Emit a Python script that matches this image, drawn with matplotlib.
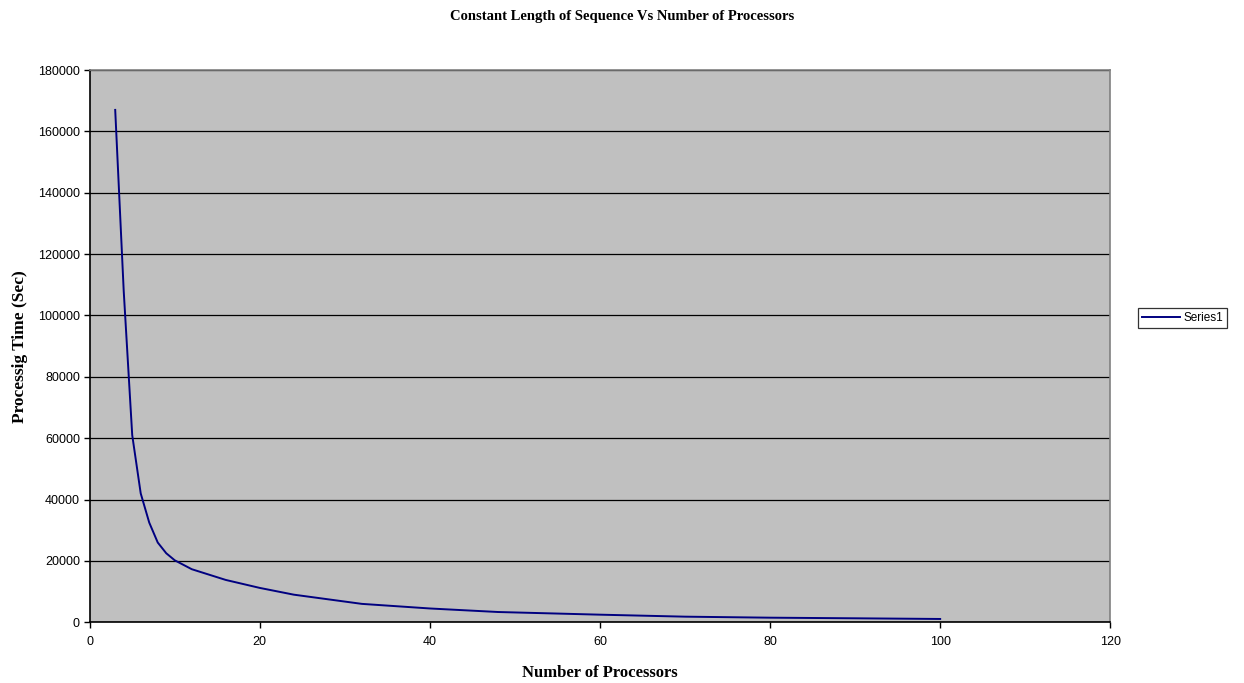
import matplotlib
matplotlib.use("Agg")
import matplotlib.pyplot as plt

# Processing time for a constant sequence length, by processor count
processors = [3, 4, 5, 6, 7, 8, 9, 10, 12, 16, 20, 24, 32, 40, 48, 60, 70, 80, 90, 100]
proc_time = [167000, 108000, 61000, 42000, 32500, 26000, 22500, 20200, 17300, 13800,
             11200, 9000, 6000, 4500, 3350, 2480, 1830, 1500, 1300, 1080]

x_ticks = [0, 20, 40, 60, 80, 100, 120]
y_ticks = [0, 20000, 40000, 60000, 80000, 100000, 120000, 140000, 160000, 180000]

serif = ["Liberation Serif", "DejaVu Serif"]
sans = ["Liberation Sans", "DejaVu Sans"]

fig = plt.figure(figsize=(12.44, 6.83), dpi=100)
ax = fig.add_axes([0.0721, 0.0889, 0.8204, 0.8086])
ax.set_facecolor("#C0C0C0")

ax.plot(processors, proc_time, color="#000080", linewidth=1.4, label="Series1")

ax.set_xlim(0, 120)
ax.set_ylim(0, 180000)
ax.set_xticks(x_ticks)
ax.set_yticks(y_ticks)
ax.set_xticklabels([str(v) for v in x_ticks], fontfamily=sans, fontsize=9)
ax.set_yticklabels([str(v) for v in y_ticks], fontfamily=sans, fontsize=9)
ax.tick_params(axis="x", direction="out", length=4, width=1, color="black", pad=6)
ax.tick_params(axis="y", direction="out", length=4, width=1, color="black", pad=3)

ax.yaxis.grid(True, color="black", linewidth=0.9)
ax.set_axisbelow(True)
for side in ["top", "right"]:
    ax.spines[side].set_color("#808080")
    ax.spines[side].set_linewidth(1.2)
for side in ["left", "bottom"]:
    ax.spines[side].set_color("black")
    ax.spines[side].set_linewidth(1.2)

ax.set_xlabel("Number of Processors", fontfamily=serif, fontweight="bold",
              fontsize=12, labelpad=12)
ax.set_ylabel("Processig Time (Sec)", fontfamily=serif, fontweight="bold",
              fontsize=12.5, labelpad=7)
fig.text(0.5, 0.986, "Constant Length of Sequence Vs Number of Processors",
         ha="center", va="top", fontfamily=serif, fontweight="bold", fontsize=10.5)

leg = ax.legend(loc="center left", bbox_to_anchor=(1.027, 0.551), frameon=True,
                fancybox=False, prop={"family": sans, "size": 8.5},
                handlelength=3.2, handletextpad=0.3, borderpad=0.35,
                borderaxespad=0)
leg.get_frame().set_edgecolor("black")
leg.get_frame().set_linewidth(0.9)

fig.savefig("out.png", dpi=100, facecolor="white")
